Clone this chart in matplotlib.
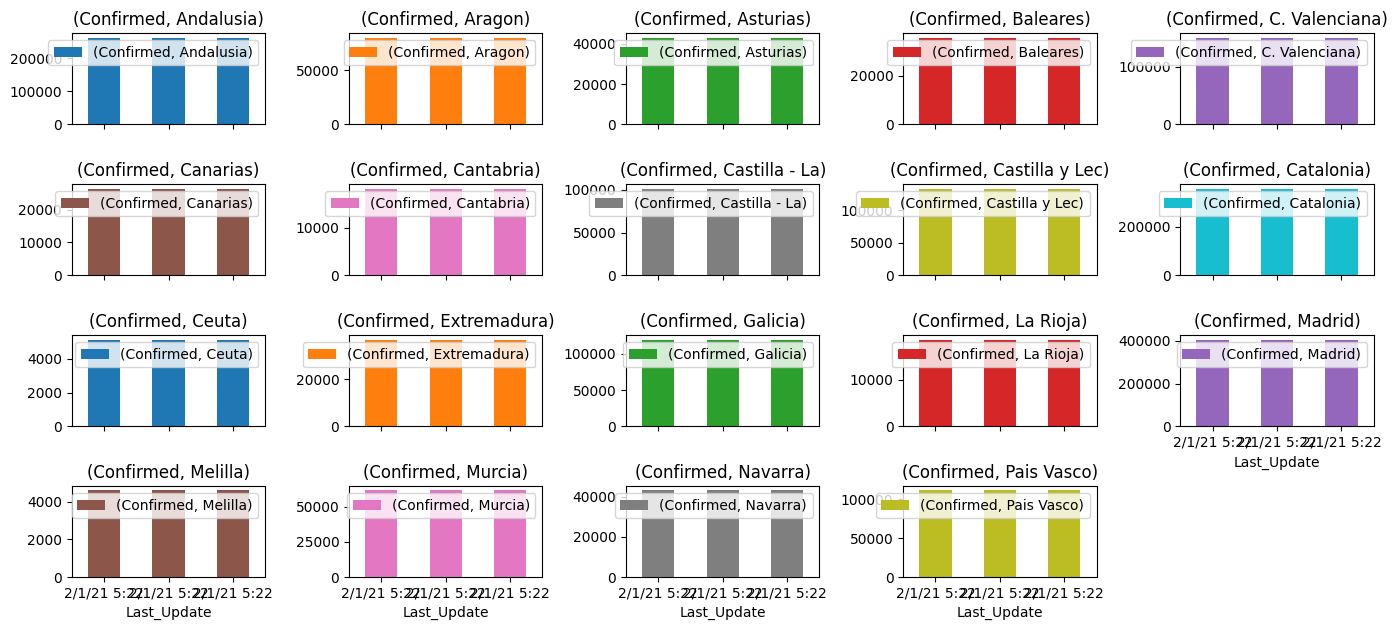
import pandas as pd
import matplotlib
matplotlib.use("Agg")
import matplotlib.pyplot as plt

# Region names (second level of the column MultiIndex)
regions = [
    "Andalusia", "Aragon", "Asturias", "Baleares", "C. Valenciana",
    "Canarias", "Cantabria", "Castilla - La", "Castilla y Lec", "Catalonia",
    "Ceuta", "Extremadura", "Galicia", "La Rioja", "Madrid",
    "Melilla", "Murcia", "Navarra", "Pais Vasco",
]

# Confirmed cases per region (same on each update row)
confirmed = [
    262000, 79800, 43000, 35800, 149800,
    26400, 18200, 101500, 133500, 359000,
    5150, 37000, 120000, 18600, 406000,
    4600, 61500, 43100, 111300,
]

# Index values (three update rows)
last_update = ["2/1/21 5:22", "2/1/21 5:22", "2/1/21 5:22"]

columns = pd.MultiIndex.from_tuples([("Confirmed", r) for r in regions])
df = pd.DataFrame([confirmed] * len(last_update), columns=columns,
                  index=pd.Index(last_update, name="Last_Update"))

axes = df.plot.bar(subplots=True, layout=(4, 5), figsize=(13.96, 6.3), rot=0)

for ax, r in zip(axes.flat, regions):
    ax.set_title(f"(Confirmed, {r})")

plt.subplots_adjust(left=0.0515, right=0.984, top=0.947, bottom=0.084,
                    wspace=0.433, hspace=0.66)
plt.savefig("out.png", dpi=100)
